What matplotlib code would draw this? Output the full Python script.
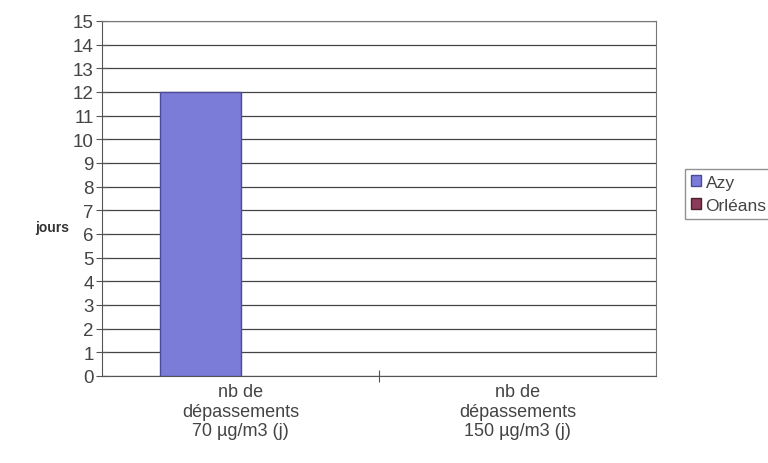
import numpy as np
import matplotlib.pyplot as plt

plt.rcParams['font.family'] = ['Liberation Sans', 'DejaVu Sans']

categories = ['nb de\ndépassements\n70 µg/m3 (j)', 'nb de\ndépassements\n150 µg/m3 (j)']
azy = [12, 0]
orleans = [0, 0]
series_names = ['Azy', 'Orléans']

fig = plt.figure(figsize=(7.68, 4.64), dpi=100)
ax = fig.add_axes([102/768, 1-377/464, 554/768, 355/464])

x = np.arange(len(categories))
w = 0.29
b1 = ax.bar(x - w/2, azy, w, color='#7b7bd8', edgecolor='#4b4b9a', linewidth=1, zorder=3)
b2 = ax.bar(x + w/2, orleans, w, color='#8c3a5a', edgecolor='#4a2030', linewidth=1, zorder=3)
for bars in (b1, b2):
    for r in bars:
        if r.get_height() == 0:
            r.set_linewidth(0)

ax.set_xlim(-0.5, 1.5)
ax.set_ylim(0, 15)
ax.set_yticks(range(0, 16))
ax.yaxis.grid(True, color='#444444', linewidth=0.9, zorder=0)
ax.set_xticks([0.5])
ax.set_xticklabels([''])
ax.tick_params(axis='x', direction='inout', length=8, color='#555555')
ax.tick_params(axis='y', direction='inout', length=8, color='#555555', labelsize=13.5, labelcolor='#444444', pad=2)
for i, c in enumerate(categories):
    ax.text(x[i], -0.3, c, ha='center', va='top', fontsize=13, color='#444444', linespacing=1.2)
for s in ['left', 'bottom']:
    ax.spines[s].set_color('#555555')
for s in ['top', 'right']:
    ax.spines[s].set_color('#777777')
    ax.spines[s].set_linestyle((0, (2, 1)))

fig.text(35/768, 1-228/464, 'jours', fontsize=10, fontweight='bold', color='#333333', va='center')

h1 = plt.Rectangle((0, 0), 1, 1, facecolor='#7b7bd8', edgecolor='#4b4b9a', linewidth=1)
h2 = plt.Rectangle((0, 0), 1, 1, facecolor='#8c3a5a', edgecolor='#4a2030', linewidth=1)
leg = fig.legend(handles=[h1, h2], labels=series_names, loc='upper left', bbox_to_anchor=(676/768, 1-161/464),
                 fontsize=12.5, frameon=True, fancybox=False, edgecolor='#777777',
                 handlelength=0.6, handleheight=0.6, handletextpad=0.25, borderpad=0.35, labelspacing=0.45)
for t in leg.get_texts():
    t.set_color('#444444')

fig.savefig('out.png', dpi=100)
